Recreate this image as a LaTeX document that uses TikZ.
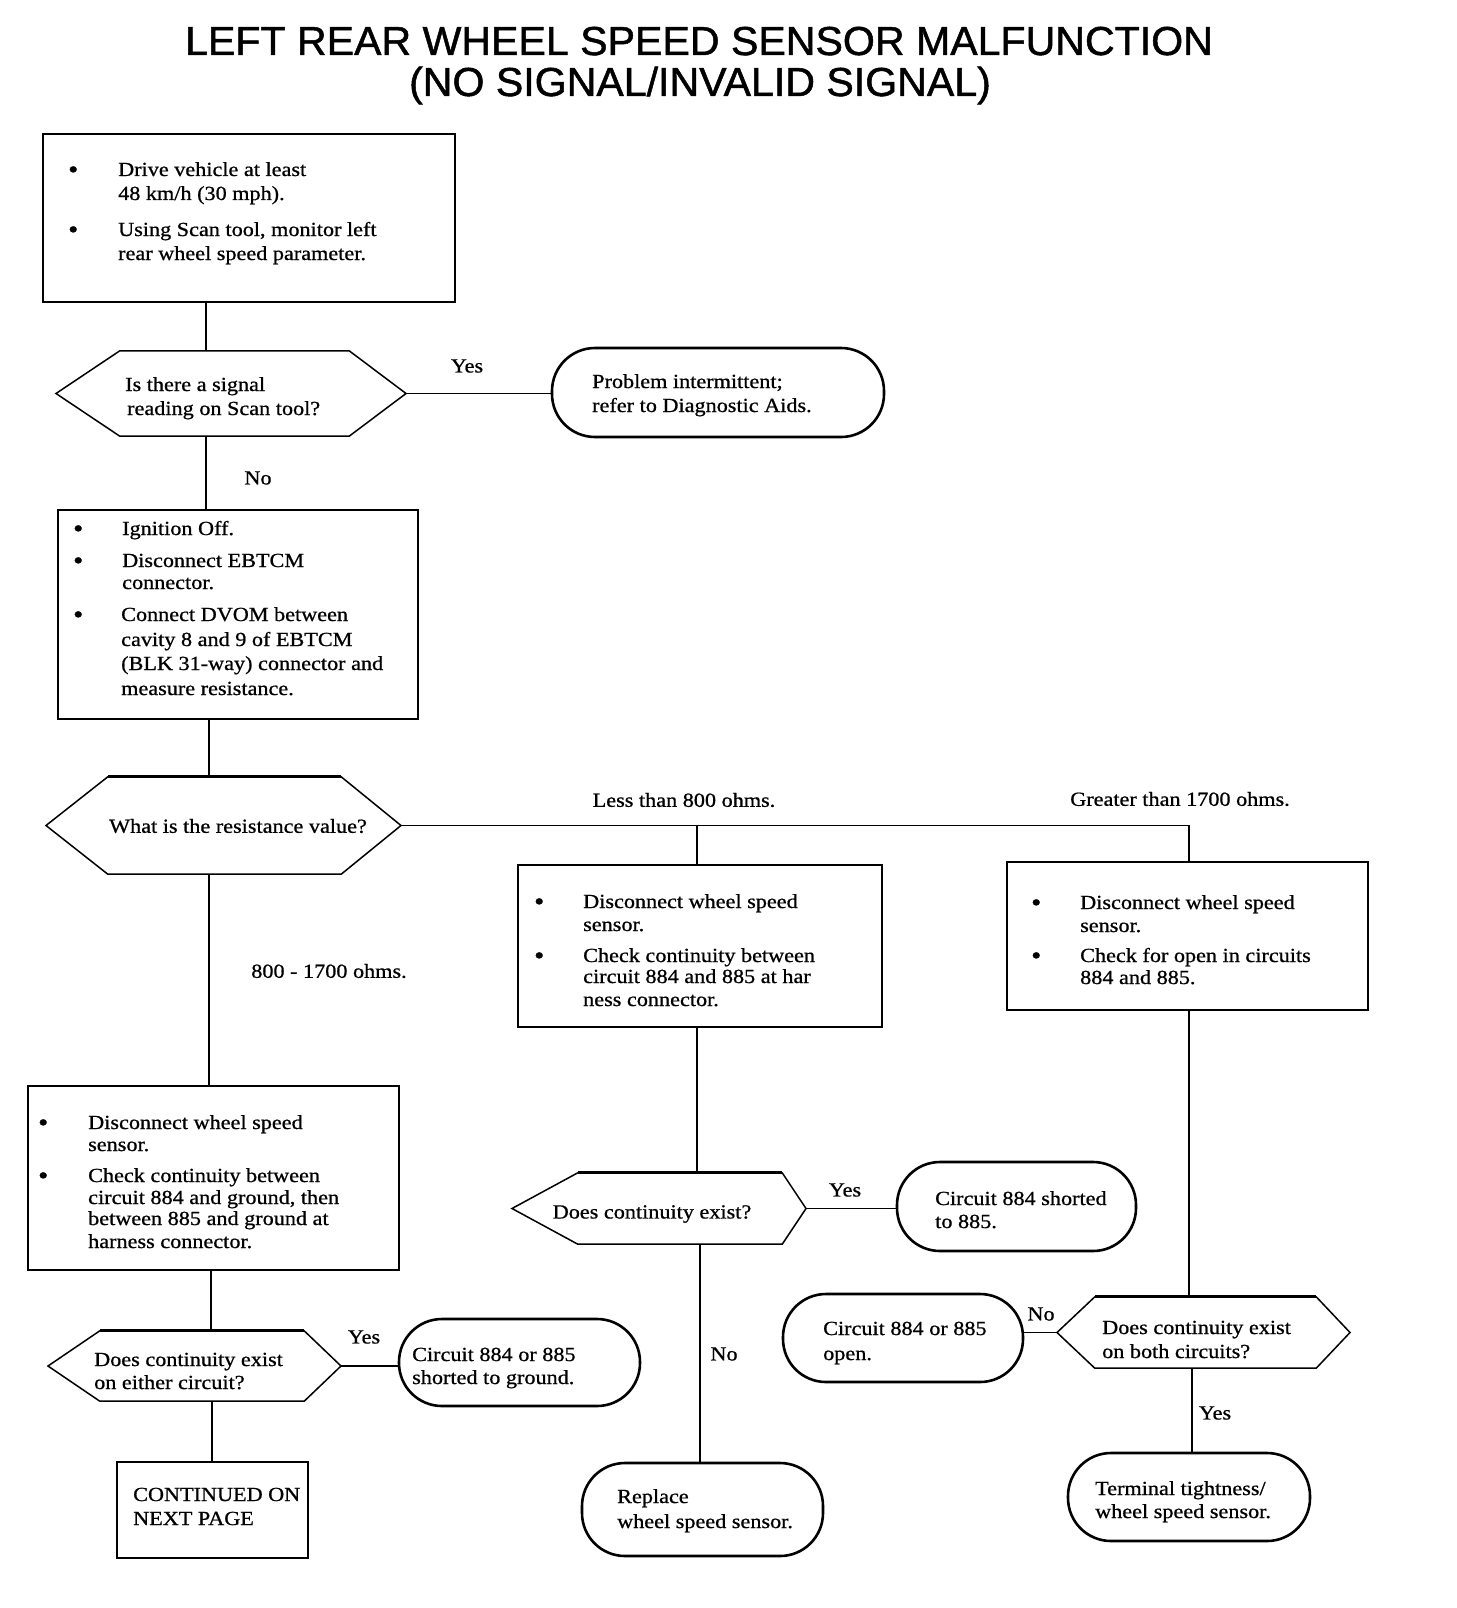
\documentclass[tikz,border=0pt]{standalone}
\usepackage{fontspec}
\setmainfont{Liberation Serif}[FakeStretch=1.11,FakeBold=0.8]
\newfontfamily\titlefont{Liberation Sans}[FakeBold=1.2]
\begin{document}
\tikzset{
  box/.style={draw, line width=1.8pt, inner sep=0pt},
  rbox/.style={draw, line width=2.6pt, rounded corners=43pt, inner sep=0pt},
  hexn/.style={inner sep=0pt},
  hexline/.style={line width=1.5pt, line join=miter},
  hextop/.style={line width=3pt},
  conn/.style={line width=1.3pt},
  txt/.style={anchor=base west, inner sep=0pt, font=\fontsize{20}{23}\selectfont},
  bul/.style={anchor=base west, inner sep=0pt, font=\fontsize{26}{23}\selectfont},
  lbl/.style={anchor=center, inner sep=0pt, font=\fontsize{20}{23}\selectfont},
  ttl/.style={anchor=base, inner sep=0pt, xscale=1.015, transform shape, font=\titlefont\fontsize{40.5}{42}\selectfont},
}
\newcommand\hexa[7]{% name, left, top-left, top-right, right, top, bottom
  \node[hexn, minimum width={#4-#3}, minimum height={#7-#6}] (#1) at ({(#3+#4)/2},{(#6+#7)/2}) {};
  \coordinate (#1-l) at (#2,{(#6+#7)/2});
  \coordinate (#1-r) at (#5,{(#6+#7)/2});
  \draw[hexline] (#1-l) -- (#1.north west) -- (#1.north east) -- (#1-r) -- (#1.south east) -- (#1.south west) -- cycle;
}
\newcommand\tl[4]{\node[txt] (#1) at (#2,#3) {#4};}
\newcommand\bu[3]{\node[bul] (#1) at (#2,#3) {•};}
\begin{tikzpicture}[x=1pt,y=-1pt]
\useasboundingbox (0,0) rectangle (1456,1608);
\fill[white] (0,0) rectangle (1456,1608);

% title
\node[ttl] (title1) at (699,55) {LEFT REAR WHEEL SPEED SENSOR MALFUNCTION};
\node[ttl] (title2) at (700,96) {(NO SIGNAL/INVALID SIGNAL)};

% shapes
\node[box, minimum width=412pt, minimum height=168pt] (b1) at (249,218) {};
\hexa{h1}{56}{120}{349}{406}{351}{436}
\node[rbox, minimum width=332pt, minimum height=89pt] (r1) at (718,392.5) {};
\node[box, minimum width=360pt, minimum height=209pt] (b2) at (238,614.5) {};
\hexa{h2}{46}{108}{341}{401}{777}{874}
\draw[hextop] (h2.north west) -- (h2.north east);
\node[box, minimum width=364pt, minimum height=162pt] (b3) at (700,946) {};
\node[box, minimum width=361pt, minimum height=148pt] (b4) at (1187.5,936) {};
\node[box, minimum width=371pt, minimum height=184pt] (b5) at (213.5,1178) {};
\hexa{h5}{48}{100}{304}{341}{1331}{1401}
\draw[hextop] (h5.north west) -- (h5.north east);
\node[rbox, minimum width=241pt, minimum height=87pt] (r5) at (519.5,1362.5) {};
\node[box, minimum width=191pt, minimum height=96pt] (b6) at (212.5,1510) {};
\hexa{h3}{512}{578}{782}{806}{1173}{1244}
\draw[hextop] (h3.north west) -- (h3.north east);
\node[rbox, minimum width=239pt, minimum height=89pt] (r7) at (1016.5,1206.5) {};
\node[rbox, minimum width=241pt, minimum height=93pt] (r8) at (702.5,1509.5) {};
\hexa{h4}{1057}{1095}{1316}{1350}{1297}{1368}
\draw[hextop] (h4.north west) -- (h4.north east);
\node[rbox, minimum width=240pt, minimum height=88pt] (r9) at (903,1338) {};
\node[rbox, minimum width=242pt, minimum height=88pt] (r10) at (1189,1497) {};

% connector x positions
\coordinate (xa) at (206,0);
\coordinate (xb) at (209,0);
\coordinate (xc) at (211,0);
\coordinate (xd) at (212,0);
\coordinate (xm) at (697,0);
\coordinate (xn) at (700,0);
\coordinate (xr) at (1189,0);
\coordinate (xs) at (1192,0);

% connectors
\draw[conn] (xa |- b1.south) -- (xa |- h1.north);
\draw[conn] (h1-r) -- (h1-r -| r1.west);
\draw[conn] (xa |- h1.south) -- (xa |- b2.north);
\draw[conn] (xb |- b2.south) -- (xb |- h2.north);
\draw[conn] (h2-r) -- (h2-r -| xr) -- (xr |- b4.north);
\draw[conn] (xm |- h2-r) -- (xm |- b3.north);
\draw[conn] (xb |- h2.south) -- (xb |- b5.north);
\draw[conn] (xc |- b5.south) -- (xc |- h5.north);
\draw[conn] (h5-r) -- (h5-r -| r5.west);
\draw[conn] (xd |- h5.south) -- (xd |- b6.north);
\draw[conn] (xm |- b3.south) -- (xm |- h3.north);
\draw[conn] (h3-r) -- (h3-r -| r7.west);
\draw[conn] (xn |- h3.south) -- (xn |- r8.north);
\draw[conn] (xr |- b4.south) -- (xr |- h4.north);
\draw[conn] (h4-l) -- (h4-l -| r9.east);
\draw[conn] (xs |- h4.south) -- (xs |- r10.north);

% connector labels
\node[lbl] (lyes1) at (467,366) {Yes};
\node[lbl] (lno1) at (258,478) {No};
\node[lbl] (lless) at (684,800) {Less than 800 ohms.};
\node[lbl] (lgreat) at (1180,799) {Greater than 1700 ohms.};
\node[lbl] (lmid) at (329,971) {800 - 1700 ohms.};
\node[lbl] (lyes5) at (364,1337) {Yes};
\node[lbl] (lyes3) at (845,1190) {Yes};
\node[lbl] (lno3) at (724,1354) {No};
\node[lbl] (lno4) at (1041,1314) {No};
\node[lbl] (lyes4) at (1215,1413) {Yes};

% box 1 text
\bu{b1u1}{68}{178}
\tl{b1t1}{118}{176}{Drive vehicle at least}
\tl{b1t2}{118}{200}{48 km/h (30 mph).}
\bu{b1u2}{68}{238}
\tl{b1t3}{118}{236}{Using Scan tool, monitor left}
\tl{b1t4}{118}{260}{rear wheel speed parameter.}

% hex 1 text
\tl{h1t1}{125}{391}{Is there a signal}
\tl{h1t2}{127}{415}{reading on Scan tool?}

% r1 text
\tl{r1t1}{592}{388}{Problem intermittent;}
\tl{r1t2}{592}{412}{refer to Diagnostic Aids.}

% box 2 text
\bu{b2u1}{73}{537}
\tl{b2t1}{122}{535}{Ignition Off.}
\bu{b2u2}{73}{569}
\tl{b2t2}{122}{567}{Disconnect EBTCM}
\tl{b2t3}{122}{589}{connector.}
\bu{b2u3}{73}{623}
\tl{b2t4}{121}{621}{Connect DVOM between}
\tl{b2t5}{121}{646}{cavity 8 and 9 of EBTCM}
\tl{b2t6}{121}{670}{(BLK 31-way) connector and}
\tl{b2t7}{121}{695}{measure resistance.}

% hex 2 text
\node[lbl] (h2t) at (238,826) {What is the resistance value?};

% box 3 text
\bu{b3u1}{534}{910}
\tl{b3t1}{583}{908}{Disconnect wheel speed}
\tl{b3t2}{583}{931}{sensor.}
\bu{b3u2}{534}{964}
\tl{b3t3}{583}{962}{Check continuity between}
\tl{b3t4}{583}{983}{circuit 884 and 885 at har}
\tl{b3t5}{583}{1006}{ness connector.}

% box 4 text
\bu{b4u1}{1031}{911}
\tl{b4t1}{1080}{909}{Disconnect wheel speed}
\tl{b4t2}{1080}{932}{sensor.}
\bu{b4u2}{1031}{964}
\tl{b4t3}{1080}{962}{Check for open in circuits}
\tl{b4t4}{1080}{984}{884 and 885.}

% box 5 text
\bu{b5u1}{38}{1131}
\tl{b5t1}{88}{1129}{Disconnect wheel speed}
\tl{b5t2}{88}{1151}{sensor.}
\bu{b5u2}{38}{1184}
\tl{b5t3}{88}{1182}{Check continuity between}
\tl{b5t4}{88}{1204}{circuit 884 and ground, then}
\tl{b5t5}{88}{1225}{between 885 and ground at}
\tl{b5t6}{88}{1248}{harness connector.}

% hex 5 text
\tl{h5t1}{94}{1366}{Does continuity exist}
\tl{h5t2}{94}{1389}{on either circuit?}

% r5 text
\tl{r5t1}{412}{1361}{Circuit 884 or 885}
\tl{r5t2}{412}{1384}{shorted to ground.}

% box 6 text
\tl{b6t1}{133}{1501}{CONTINUED ON}
\tl{b6t2}{133}{1525}{NEXT PAGE}

% hex 3 text
\node[lbl] (h3t) at (652,1214) {Does continuity exist?};

% r7 text
\tl{r7t1}{935}{1205}{Circuit 884 shorted}
\tl{r7t2}{935}{1228}{to 885.}

% r8 text
\tl{r8t1}{617}{1503}{Replace}
\tl{r8t2}{617}{1528}{wheel speed sensor.}

% hex 4 text
\tl{h4t1}{1102}{1334}{Does continuity exist}
\tl{h4t2}{1102}{1358}{on both circuits?}

% r9 text
\tl{r9t1}{823}{1335}{Circuit 884 or 885}
\tl{r9t2}{823}{1360}{open.}

% r10 text
\tl{r10t1}{1095}{1495}{Terminal tightness/}
\tl{r10t2}{1095}{1518}{wheel speed sensor.}
\end{tikzpicture}
\end{document}
